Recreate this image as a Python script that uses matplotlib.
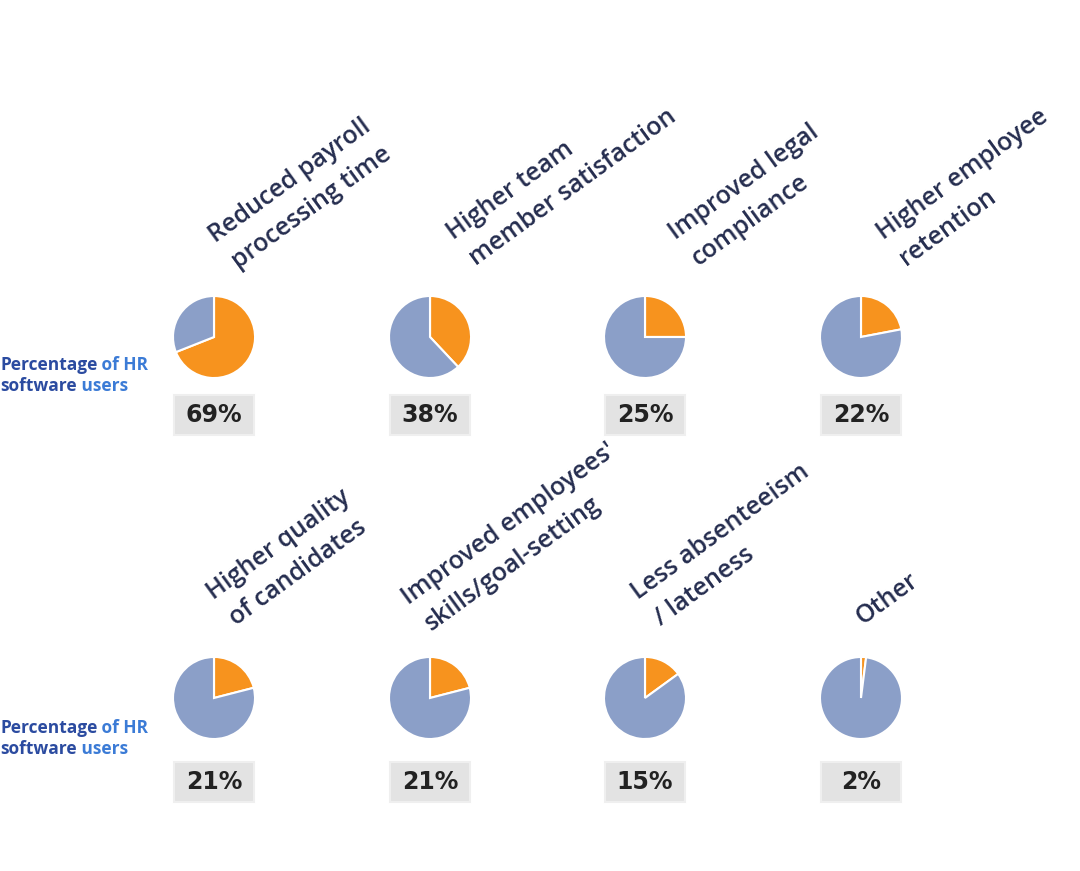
import matplotlib.pyplot as plt

W, H = 1080, 871

titles = [
    ["Reduced payroll", "processing time"],
    ["Higher team", "member satisfaction"],
    ["Improved legal", "compliance"],
    ["Higher employee", "retention"],
    ["Higher quality", "of candidates"],
    ["Improved employees'", "skills/goal-setting"],
    ["Less absenteeism", "/ lateness"],
    ["Other"],
]
values = [69, 38, 25, 22, 21, 21, 15, 2]
pct_labels = ["69%", "38%", "25%", "22%", "21%", "21%", "15%", "2%"]

# layout in pixel coords (y measured from top)
pie_x = [214, 430, 645, 861]
pie_y = [337, 698]
box_y = [415, 782]
radius = 41
title_start = [(215, 243), (453, 240), (675, 240), (883, 240),
               (213, 600), (408, 605), (638, 600), (862, 625)]
label_y = [365, 728]

orange = "#f7931e"
blue = "#8b9fc8"
navy = "#252d4f"

fig = plt.figure(figsize=(W / 100, H / 100), dpi=100)
ax = fig.add_axes([0, 0, 1, 1])

ANGLE = 36
for i, v in enumerate(values):
    cx = pie_x[i % 4]
    cy = H - pie_y[i // 4]
    ax.pie([v, 100 - v], colors=[orange, blue], startangle=90, counterclock=False,
           center=(cx, cy), radius=radius, explode=[0.06, 0],
           wedgeprops=dict(edgecolor="white", linewidth=1.5), frame=True)

    by = H - box_y[i // 4]
    ax.add_patch(plt.Rectangle((cx - 40, by - 20), 80, 40, facecolor="#e3e3e3",
                               edgecolor="#efefef", linewidth=1.5))
    ax.text(cx, by, pct_labels[i], ha="center", va="center", fontsize=17,
            fontweight="bold", color="#222222", family="DejaVu Sans")

    sx, sy = title_start[i]
    for j, line in enumerate(titles[i]):
        ax.text(sx + j * 23, H - sy - j * 26, line, rotation=ANGLE,
                rotation_mode="anchor", ha="left", va="baseline",
                fontsize=18, fontweight="semibold", color=navy,
                family="Open Sans")

for ly in label_y:
    t1 = ax.text(0, H - ly, "Percentage", fontsize=12.5, fontweight="bold",
                 color="#2b4ba0", family="Open Sans", va="center", ha="left")
    ax.annotate(" of HR", xy=(1, 0), xycoords=t1, va="bottom", ha="left",
                fontsize=12.5, fontweight="bold", color="#3b7bd6", family="Open Sans")
    t3 = ax.text(0, H - ly - 21, "software", fontsize=12.5, fontweight="bold",
                 color="#2b4ba0", family="Open Sans", va="center", ha="left")
    ax.annotate(" users", xy=(1, 0), xycoords=t3, va="bottom", ha="left",
                fontsize=12.5, fontweight="bold", color="#3b7bd6", family="Open Sans")

ax.set_xlim(0, W)
ax.set_ylim(0, H)
ax.set_aspect("equal")
ax.axis("off")

fig.savefig("out.png", dpi=100, facecolor="white")
